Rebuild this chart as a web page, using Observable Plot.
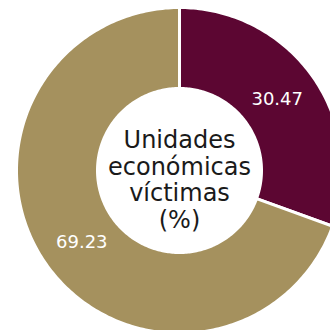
<!DOCTYPE html>
<html>
<head>
<meta charset="utf-8">
<script src="https://cdn.jsdelivr.net/npm/d3@7"></script>
<script src="https://cdn.jsdelivr.net/npm/@observablehq/plot@0.6"></script>
<style>
  html, body { margin: 0; padding: 0; background: #fff; }
  #chart svg { display: block; }
</style>
</head>
<body>
<div id="chart"></div>
<script>
// Data
const categories = ["Víctimas", "No víctimas"];
const values = [30.47, 69.23];
const valueLabels = ["30.47", "69.23"];
const colors = ["#5c0632", "#a5915e"];
const centerTitle = ["Unidades", "económicas", "víctimas", "(%)"];

// Geometry
const W = 331, H = 331;
const cx = 179, cy = 170, R = 163, r = 82;

const pie = d3.pie().sort(null).value(d => d.value)(
  categories.map((c, i) => ({category: c, value: values[i], label: valueLabels[i]}))
);

function ringPolygon(a0, a1) {
  const pts = [];
  const n = Math.max(2, Math.ceil((a1 - a0) / (Math.PI / 180)));
  for (let k = 0; k <= n; k++) {
    const a = a0 + (a1 - a0) * k / n;
    pts.push([cx + R * Math.sin(a), cy - R * Math.cos(a)]);
  }
  for (let k = n; k >= 0; k--) {
    const a = a0 + (a1 - a0) * k / n;
    pts.push([cx + r * Math.sin(a), cy - r * Math.cos(a)]);
  }
  pts.push(pts[0]);
  return pts;
}

const features = pie.map(p => ({
  type: "Feature",
  properties: {category: p.data.category},
  geometry: {type: "Polygon", coordinates: [ringPolygon(p.startAngle, p.endAngle)]}
}));

const labelR = 121;
const labelData = pie.map(p => {
  const a = (p.startAngle + p.endAngle) / 2 - 0.02;
  return {x: cx + labelR * Math.sin(a), y: cy - labelR * Math.cos(a), label: p.data.label};
});

const chart = Plot.plot({
  width: W,
  height: H,
  margin: 0,
  style: {fontFamily: "'DejaVu Sans', sans-serif", background: "#fff"},
  projection: {
    type: "identity",
    domain: {type: "Polygon", coordinates: [[[0, 0], [W, 0], [W, H], [0, H], [0, 0]]]}
  },
  color: {domain: categories, range: colors},
  marks: [
    Plot.geo(features, {fill: d => d.properties.category, stroke: "#fff", strokeWidth: 3}),
    Plot.text(labelData, {x: "x", y: "y", text: "label", fill: "#fff", fontSize: 18}),
    Plot.text([centerTitle.join("\n")], {x: () => cx, y: () => cy, dy: 9, text: d => d, fill: "#1a1a1a", fontSize: 24, lineHeight: 1.1})
  ]
});
document.getElementById("chart").appendChild(chart);
</script>
</body>
</html>
